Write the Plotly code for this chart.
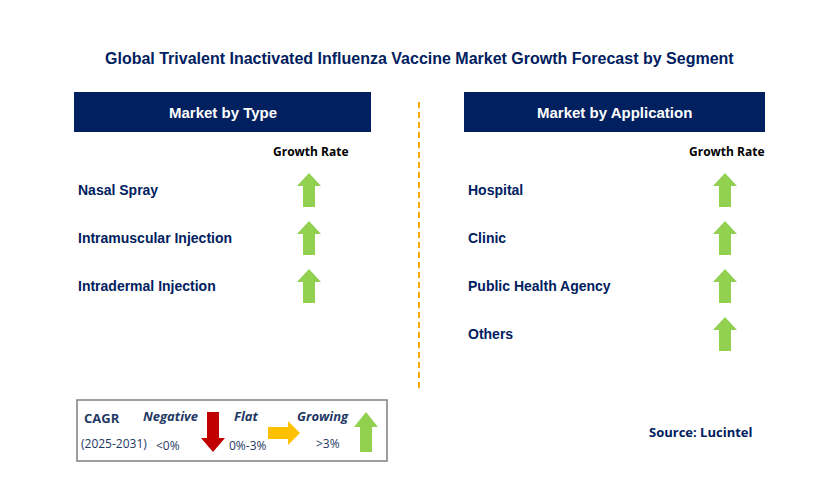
import plotly.graph_objects as go

title = "Global Trivalent Inactivated Influenza Vaccine Market Growth Forecast by Segment"
type_items = ["Nasal Spray", "Intramuscular Injection", "Intradermal Injection"]
type_growth = ["up", "up", "up"]
app_items = ["Hospital", "Clinic", "Public Health Agency", "Others"]
app_growth = ["up", "up", "up", "up"]
panels = ["Market by Type", "Market by Application"]

NAVY = "#002060"
GREEN = "#92D050"
RED = "#C00000"
YELLOW = "#FFC000"
FONT = "Liberation Sans, Arial"
FONT2 = "Open Sans"

fig = go.Figure()
shapes = []
ann = []


def up_arrow(cx, top, h=34, w=24, sw=12, hh=13, color=GREEN):
    p = (f"M {cx} {top} L {cx + w/2} {top + hh} L {cx + sw/2} {top + hh} L {cx + sw/2} {top + h} "
         f"L {cx - sw/2} {top + h} L {cx - sw/2} {top + hh} L {cx - w/2} {top + hh} Z")
    return dict(type="path", path=p, fillcolor=color, line=dict(width=0), xref="x", yref="y")


def down_arrow(cx, top, h=40, w=24, sw=12, hh=14, color=RED):
    b = top + h
    p = (f"M {cx} {b} L {cx + w/2} {b - hh} L {cx + sw/2} {b - hh} L {cx + sw/2} {top} "
         f"L {cx - sw/2} {top} L {cx - sw/2} {b - hh} L {cx - w/2} {b - hh} Z")
    return dict(type="path", path=p, fillcolor=color, line=dict(width=0), xref="x", yref="y")


def right_arrow(left, cy, w=32, h=24, sh=12, hw=12, color=YELLOW):
    r = left + w
    p = (f"M {r} {cy} L {r - hw} {cy - h/2} L {r - hw} {cy - sh/2} L {left} {cy - sh/2} "
         f"L {left} {cy + sh/2} L {r - hw} {cy + sh/2} L {r - hw} {cy + h/2} Z")
    return dict(type="path", path=p, fillcolor=color, line=dict(width=0), xref="x", yref="y")


def text(x, y, s, size=14, color=NAVY, bold=True, anchor="left", italic=False, fam=FONT):
    if bold:
        s = f"<b>{s}</b>"
    if italic:
        s = f"<i>{s}</i>"
    ann.append(dict(x=x, y=y, text=s, showarrow=False, xanchor=anchor, yanchor="middle",
                    xref="x", yref="y", font=dict(size=size, color=color, family=fam)))


text(419, 58, title, size=16, anchor="center")

cols = [(74, 371, 77, 309, type_items, type_growth), (464, 765, 467, 725, app_items, app_growth)]
for (x0, x1, tx, ax, items, growth), name in zip(cols, panels):
    shapes.append(dict(type="rect", x0=x0, x1=x1, y0=92, y1=132, fillcolor=NAVY,
                       line=dict(width=0), xref="x", yref="y"))
    text((x0 + x1) / 2, 112, name, size=15, color="white", anchor="center")
    text(ax + 2, 151, "Growth Rate", size=12, color="black", anchor="center", fam=FONT2)
    for i, (it, g) in enumerate(zip(items, growth)):
        y = 190 + 48 * i
        text(tx - 1, y, it, size=14)
        if g == "up":
            shapes.append(up_arrow(ax, y - 17))

shapes.append(dict(type="line", x0=419, x1=419, y0=102, y1=388, xref="x", yref="y",
                   line=dict(color="#F5A800", width=2, dash="6px,4px")))

# legend box
shapes.append(dict(type="rect", x0=77, x1=387, y0=400, y1=461, xref="x", yref="y",
                   line=dict(color="#7F7F7F", width=1.5), fillcolor="white"))
text(82, 418, "CAGR", size=13, color="#1F3864", fam=FONT2)
text(79, 443, "(2025-2031)", size=12, color="#1F3864", bold=False, fam=FONT2)
text(170, 416, "Negative", size=13, color="#1F3864", anchor="center", italic=True, fam=FONT2)
text(168, 445, "<0%", size=12, color="#1F3864", bold=False, anchor="center", fam=FONT2)
shapes.append(down_arrow(213, 412))
text(246, 416, "Flat", size=13, color="#1F3864", anchor="center", italic=True, fam=FONT2)
text(248, 445, "0%-3%", size=12, color="#1F3864", bold=False, anchor="center", fam=FONT2)
shapes.append(right_arrow(268, 433))
text(323, 416, "Growing", size=13, color="#1F3864", anchor="center", italic=True, fam=FONT2)
text(328, 443, ">3%", size=12, color="#1F3864", bold=False, anchor="center", fam=FONT2)
shapes.append(up_arrow(366, 412, h=40, hh=15))

text(700, 432, "Source: Lucintel", size=13, anchor="center", fam=FONT2)

# page body has an 8px margin, so shift the axis ranges to keep pixel positions
fig.update_layout(
    width=829, height=496, margin=dict(l=0, r=0, t=0, b=0),
    plot_bgcolor="white", paper_bgcolor="white", showlegend=False,
    xaxis=dict(range=[8, 837], visible=False, fixedrange=True),
    yaxis=dict(range=[504, 8], visible=False, fixedrange=True),
    shapes=shapes, annotations=ann,
)
fig.write_html("out.html")
